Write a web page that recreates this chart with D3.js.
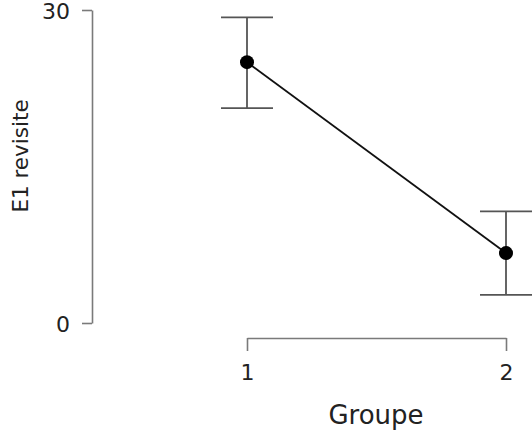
<!DOCTYPE html>
<html>
<head>
<meta charset="utf-8">
<script src="https://cdn.jsdelivr.net/npm/d3@7"></script>
<style>
  body { margin: 0; background: #fff; }
  .axis text { font-family: "DejaVu Sans", sans-serif; font-size: 22px; fill: #222; }
  .axis path, .axis line { stroke: #7a7a7a; stroke-width: 1.6; }
</style>
</head>
<body>
<div id="chart"></div>
<script>
// data
var groups = [1, 2];
var means = [25, 6.7];
var upper = [29.3, 10.7];
var lower = [20.6, 2.7];
var yTicks = [0, 30];

function main() {
    var width = 532, height = 432;

    var svg = d3.select("#chart")
        .append("svg")
        .attr("width", width)
        .attr("height", height);

    // scales
    var x = d3.scalePoint()
        .domain(groups)
        .range([247, 506]);
    var y = d3.scaleLinear()
        .domain([0, 30])
        .range([323, 10]);

    // y axis
    svg.append("g")
        .attr("class", "axis")
        .attr("transform", "translate(92,0)")
        .call(d3.axisLeft(y).tickValues(yTicks).tickSize(10).tickSizeOuter(0).tickPadding(12))
        .selectAll(".tick text")
        .attr("dy", "0.4em");

    // x axis
    svg.append("g")
        .attr("class", "axis")
        .attr("transform", "translate(0,338)")
        .call(d3.axisBottom(x).tickSize(13).tickSizeOuter(0).tickPadding(13));

    // axis titles
    svg.append("text")
        .attr("transform", "translate(28,156) rotate(-90)")
        .attr("text-anchor", "middle")
        .style("font-family", "DejaVu Sans, sans-serif")
        .style("font-size", "21.5px")
        .style("fill", "#222")
        .text("E1 revisite");

    svg.append("text")
        .attr("x", 376)
        .attr("y", 424)
        .attr("text-anchor", "middle")
        .style("font-family", "DejaVu Sans, sans-serif")
        .style("font-size", "26px")
        .style("fill", "#222")
        .text("Groupe");

    var rows = groups.map(function (g, i) {
        return { g: g, m: means[i], hi: upper[i], lo: lower[i] };
    });

    // error bars
    var eb = svg.append("g")
        .selectAll("g")
        .data(rows)
        .enter()
        .append("g")
        .attr("stroke", "#555")
        .attr("stroke-width", 1.8);
    eb.append("line")
        .attr("x1", function (d) { return x(d.g); })
        .attr("x2", function (d) { return x(d.g); })
        .attr("y1", function (d) { return y(d.hi); })
        .attr("y2", function (d) { return y(d.lo); });
    eb.append("line")
        .attr("x1", function (d) { return x(d.g) - 26; })
        .attr("x2", function (d) { return x(d.g) + 26; })
        .attr("y1", function (d) { return y(d.hi); })
        .attr("y2", function (d) { return y(d.hi); });
    eb.append("line")
        .attr("x1", function (d) { return x(d.g) - 26; })
        .attr("x2", function (d) { return x(d.g) + 26; })
        .attr("y1", function (d) { return y(d.lo); })
        .attr("y2", function (d) { return y(d.lo); });

    // line between means
    svg.append("path")
        .datum(rows)
        .attr("fill", "none")
        .attr("stroke", "#111")
        .attr("stroke-width", 1.8)
        .attr("d", d3.line()
            .x(function (d) { return x(d.g); })
            .y(function (d) { return y(d.m); }));

    // points
    svg.append("g")
        .selectAll("circle")
        .data(rows)
        .enter()
        .append("circle")
        .attr("cx", function (d) { return x(d.g); })
        .attr("cy", function (d) { return y(d.m); })
        .attr("r", 7)
        .attr("fill", "#000");
}
window.addEventListener('load', main);
</script>
</body>
</html>
